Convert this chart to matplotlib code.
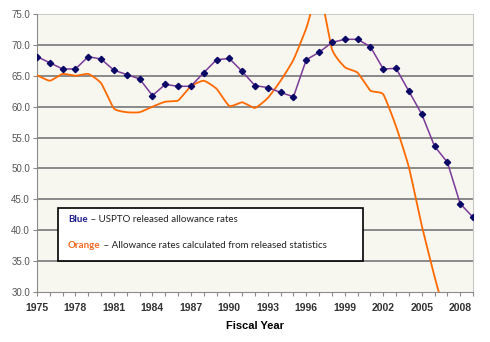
import numpy as np
import matplotlib
matplotlib.use("Agg")
import matplotlib.pyplot as plt
from matplotlib.patches import Rectangle
from matplotlib.ticker import MultipleLocator

plt.rcParams['font.family'] = ['Liberation Sans', 'DejaVu Sans']

# data
years_blue = list(range(1975, 2010))
blue = [68.1, 67.1, 66.1, 66.1, 68.1, 67.7, 65.9, 65.2, 64.5, 61.8,
        63.6, 63.3, 63.3, 65.5, 67.6, 67.8, 65.7, 63.4, 63.1, 62.3,
        61.6, 67.6, 68.8, 70.4, 70.9, 70.9, 69.7, 66.1, 66.2, 62.5,
        58.8, 53.6, 51.0, 44.3, 42.1]

years_orange = list(range(1975, 2008))
orange = [65.1, 64.2, 65.3, 65.0, 65.3, 63.8, 59.7, 59.1, 59.1, 60.0,
          60.8, 61.0, 63.3, 64.2, 62.9, 60.1, 60.7, 59.8, 61.4, 64.2,
          67.6, 72.7, 79.0, 69.3, 66.4, 65.5, 62.6, 62.0, 56.8, 50.2,
          40.8, 32.5, 25.0]

xtick_years = list(range(1975, 2009, 3))
yticks = [30, 35, 40, 45, 50, 55, 60, 65, 70, 75]


def smooth(x, y, k=0.5, n=12):
    # cardinal spline through the points (a softer excel-style smoothing)
    x = np.asarray(x, float)
    y = np.asarray(y, float)
    mx = np.gradient(x) * k
    my = np.gradient(y) * k
    t = np.linspace(0, 1, n, endpoint=False)
    h00 = 2 * t ** 3 - 3 * t ** 2 + 1
    h10 = t ** 3 - 2 * t ** 2 + t
    h01 = -2 * t ** 3 + 3 * t ** 2
    h11 = t ** 3 - t ** 2
    xs, ys = [], []
    for i in range(len(x) - 1):
        xs.extend(h00 * x[i] + h10 * mx[i] + h01 * x[i + 1] + h11 * mx[i + 1])
        ys.extend(h00 * y[i] + h10 * my[i] + h01 * y[i + 1] + h11 * my[i + 1])
    xs.append(x[-1])
    ys.append(y[-1])
    return xs, ys


fig = plt.figure(figsize=(4.9, 3.42), dpi=100)
ax = fig.add_axes([37 / 490, 1 - 292 / 342, 436 / 490, 278 / 342])
ax.set_facecolor('#f7f6ef')

for v in yticks[1:]:
    ax.axhline(v, color='#8a8a8a' if v < 75 else '#c8c8c8', lw=1.4, zorder=1)

sx, sy = smooth(years_orange, orange)
ax.plot(sx, sy, color='#ff6a00', lw=1.3, zorder=3)
ax.plot(years_blue, blue, color='#7a3a98', lw=1.1, marker='D', ms=3.2,
        mfc='#0a0a66', mec='#0a0a66', zorder=4)

ax.set_xlim(1975, 2009)
ax.set_ylim(30, 75)
ax.set_yticks(yticks)
ax.set_yticklabels([f"{v:.1f}" for v in yticks])
ax.set_xticks(xtick_years)
ax.xaxis.set_minor_locator(MultipleLocator(1))

ax.spines['top'].set_visible(False)
ax.spines['right'].set_color('#c8c8c8')
ax.spines['left'].set_color('#8a8a8a')
ax.spines['bottom'].set_color('#8a8a8a')

ax.tick_params(axis='y', length=3, width=0.8, color='#8a8a8a', pad=2,
               labelsize=7, labelcolor='#555555')
ax.tick_params(axis='x', which='both', length=3, width=0.8, color='#8a8a8a',
               pad=5, labelsize=7.5, labelcolor='#333333')
for lb in ax.get_xticklabels():
    lb.set_fontweight('bold')

ax.set_xlabel('Fiscal Year', fontsize=8, fontweight='bold', labelpad=6)

# text box inside the plot
box_font = ['Lato', 'DejaVu Sans']
ax.add_patch(Rectangle((58 / 490, 1 - 261 / 342), 305 / 490, 53 / 342,
                       transform=fig.transFigure, facecolor='white',
                       edgecolor='black', lw=1.2, zorder=5, clip_on=False))
t1 = ax.text(68 / 490, 1 - 220 / 342, 'Blue', color='#1f1f8c',
             fontsize=7, fontweight='bold', va='center', family=box_font,
             transform=fig.transFigure, zorder=6)
ax.annotate(' \u2013 USPTO released allowance rates', xy=(1, 0), xycoords=t1,
            va='bottom', ha='left', fontsize=7, color='#222222',
            family=box_font, annotation_clip=False, zorder=6)
t2 = ax.text(68 / 490, 1 - 245 / 342, 'Orange', color='#f26a22',
             fontsize=7, fontweight='bold', va='center', family=box_font,
             transform=fig.transFigure, zorder=6)
ax.annotate(' \u2013 Allowance rates calculated from released statistics',
            xy=(1, 0), xycoords=t2, va='bottom', ha='left', fontsize=7,
            color='#222222', family=box_font, annotation_clip=False, zorder=6)

fig.savefig('out.png', dpi=100)
